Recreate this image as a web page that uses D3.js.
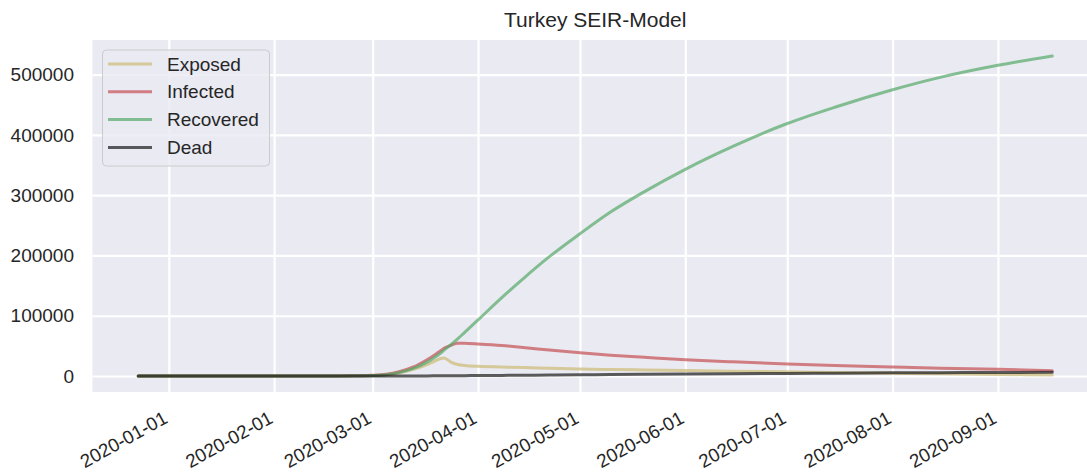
<!DOCTYPE html>
<html>
<head>
<meta charset="utf-8">
<script src="https://cdn.jsdelivr.net/npm/d3@7"></script>
<style>
  html, body { margin: 0; padding: 0; background: #ffffff; }
  svg { display: block; }
  text { font-family: "Liberation Sans", Arial, sans-serif; fill: #262626; }
</style>
</head>
<body>
<svg id="chart" width="1087" height="473"></svg>
<script>
// ---- data ----
const dates = [
  "2019-12-23","2020-01-15","2020-02-10","2020-02-20","2020-02-25","2020-03-01",
  "2020-03-05","2020-03-09","2020-03-13","2020-03-17","2020-03-19","2020-03-21",
  "2020-03-22","2020-03-24","2020-03-26","2020-03-28","2020-04-01","2020-04-08",
  "2020-04-15","2020-04-22","2020-05-01","2020-05-10","2020-05-20","2020-06-01",
  "2020-06-15","2020-07-01","2020-07-15","2020-08-01","2020-08-15","2020-09-01",
  "2020-09-17"
];
const exposed = [
  0, 0, 20, 120, 350, 900,
  2200, 5500, 11000, 19000, 24000, 29000,
  30000, 23000, 19000, 17500, 16000, 15000,
  14000, 12800, 11500, 10700, 10000, 9000,
  8000, 7000, 5800, 4600, 3600, 2600,
  1700
];
const infected = [
  0, 0, 30, 150, 450, 1100,
  2800, 7500, 15000, 27000, 34000, 42000,
  46000, 51000, 54500, 54200, 53000, 50500,
  47000, 43000, 38500, 34500, 31000, 27000,
  23500, 20000, 17500, 15000, 13000, 11000,
  8800
];
const recovered = [
  0, 0, 20, 100, 300, 800,
  2200, 6000, 12500, 23000, 30000, 38000,
  43000, 51500, 61500, 72000, 93000, 130000,
  165000, 198000, 236000, 272000, 306000, 343000,
  381000, 419000, 446000, 475000, 495500, 515500,
  531000
];
const dead = [
  0, 0, 0, 0, 0, 10,
  20, 50, 100, 180, 230, 290,
  330, 400, 480, 560, 700, 1000,
  1300, 1650, 2000, 2350, 2750, 3250,
  3800, 4300, 4700, 5200, 5550, 5900,
  6200
];
const seriesNames = ["Exposed", "Infected", "Recovered", "Dead"];
const seriesColors = ["#CCB974", "#C44E52", "#55A868", "#1a1a1a"];
const yTicks = [0, 100000, 200000, 300000, 400000, 500000];
const xTicks = ["2020-01-01","2020-02-01","2020-03-01","2020-04-01","2020-05-01",
                "2020-06-01","2020-07-01","2020-08-01","2020-09-01"];
const title = "Turkey SEIR-Model";

// ---- layout ----
const svg = d3.select("#chart");
const plot = { left: 92.5, right: 1098, top: 40, bottom: 392 };
const parse = d3.utcParse("%Y-%m-%d");
const fmt = d3.utcFormat("%Y-%m-%d");
const dts = dates.map(parse);

const tMin = d3.min(dts), tMax = d3.max(dts);
const tPad = (tMax - tMin) * 0.05;
const x = d3.scaleUtc()
  .domain([new Date(+tMin - tPad), new Date(+tMax + tPad)])
  .range([plot.left, plot.right]);

const allVals = exposed.concat(infected, recovered, dead);
const vMin = d3.min(allVals), vMax = d3.max(allVals);
const vPad = (vMax - vMin) * 0.05;
const y = d3.scaleLinear()
  .domain([vMin - vPad, vMax + vPad])
  .range([plot.bottom, plot.top]);

// clip
svg.append("defs").append("clipPath").attr("id", "clip")
  .append("rect").attr("x", plot.left).attr("y", plot.top)
  .attr("width", plot.right - plot.left).attr("height", plot.bottom - plot.top);

// background
svg.append("rect")
  .attr("x", plot.left).attr("y", plot.top)
  .attr("width", plot.right - plot.left).attr("height", plot.bottom - plot.top)
  .attr("fill", "#EAEAF2");

// grid lines via axes
const xGrid = d3.axisBottom(x).tickValues(xTicks.map(parse))
  .tickSize(-(plot.bottom - plot.top)).tickFormat("");
svg.append("g").attr("transform", `translate(0,${plot.bottom})`).call(xGrid)
  .call(g => g.select(".domain").remove())
  .call(g => g.selectAll("line").attr("stroke", "#ffffff").attr("stroke-width", 2.2));

const yGrid = d3.axisLeft(y).tickValues(yTicks)
  .tickSize(-(plot.right - plot.left)).tickFormat("");
svg.append("g").attr("transform", `translate(${plot.left},0)`).call(yGrid)
  .call(g => g.select(".domain").remove())
  .call(g => g.selectAll("line").attr("stroke", "#ffffff").attr("stroke-width", 2.2));

// y tick labels
const yAxis = d3.axisLeft(y).tickValues(yTicks).tickSize(0).tickPadding(18.5)
  .tickFormat(d => String(d));
svg.append("g").attr("transform", `translate(${plot.left},0)`).call(yAxis)
  .call(g => g.select(".domain").remove())
  .call(g => g.selectAll("text")
    .attr("font-family", "Liberation Sans, Arial, sans-serif")
    .attr("font-size", 19).attr("fill", "#262626"));

// x tick labels (rotated)
const xAxis = d3.axisBottom(x).tickValues(xTicks.map(parse)).tickSize(0).tickFormat(fmt);
svg.append("g").attr("transform", `translate(0,${plot.bottom})`).call(xAxis)
  .call(g => g.select(".domain").remove())
  .call(g => g.selectAll("text")
    .attr("font-family", "Liberation Sans, Arial, sans-serif")
    .attr("font-size", 18.8).attr("fill", "#262626")
    .attr("text-anchor", "end")
    .attr("y", 0).attr("dy", "0.72em")
    .attr("transform", "translate(-7,18) rotate(-29)"));

// lines
const allSeries = [exposed, infected, recovered, dead];
const line = d3.line()
  .x((d, i) => x(dts[i]))
  .y(d => y(d))
  .curve(d3.curveMonotoneX);
const gl = svg.append("g").attr("clip-path", "url(#clip)");
allSeries.forEach((s, k) => {
  gl.append("path").datum(s)
    .attr("d", line)
    .attr("fill", "none")
    .attr("stroke", seriesColors[k])
    .attr("stroke-opacity", 0.7)
    .attr("stroke-width", 3)
    .attr("stroke-linecap", "round")
    .attr("stroke-linejoin", "round");
});

// legend
const lg = svg.append("g");
lg.append("rect")
  .attr("x", 102.5).attr("y", 50).attr("width", 167).attr("height", 116)
  .attr("rx", 4).attr("ry", 4)
  .attr("fill", "#EAEAF2").attr("fill-opacity", 0.8)
  .attr("stroke", "#cccccc").attr("stroke-width", 1);
seriesNames.forEach((name, k) => {
  const yy = 64 + k * 27.8;
  lg.append("line")
    .attr("x1", 108).attr("x2", 152).attr("y1", yy).attr("y2", yy)
    .attr("stroke", seriesColors[k]).attr("stroke-opacity", 0.7)
    .attr("stroke-width", 3);
  lg.append("text")
    .attr("x", 167).attr("y", yy).attr("dy", "0.35em")
    .attr("font-size", 19)
    .text(name);
});

// title
svg.append("text")
  .attr("x", (plot.left + plot.right) / 2).attr("y", 27)
  .attr("text-anchor", "middle")
  .attr("font-size", 21)
  .text(title);
</script>
</body>
</html>
